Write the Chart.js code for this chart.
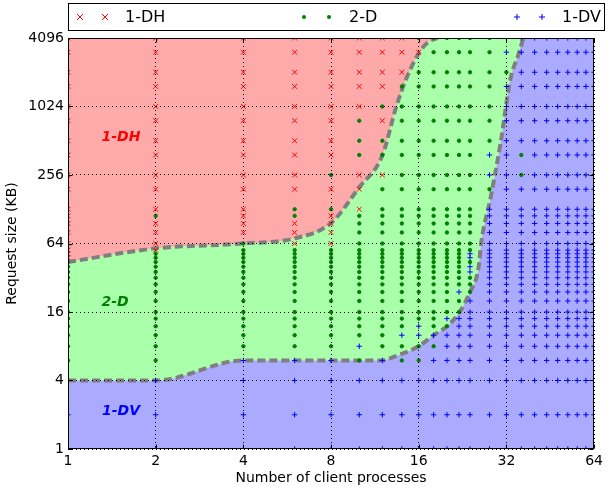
<!DOCTYPE html>
<html>
<head>
<meta charset="utf-8">
<title>Best layout by request size and number of clients</title>
<script src="https://cdn.jsdelivr.net/npm/chart.js@4/dist/chart.umd.min.js"></script>
<style>
  html, body { margin: 0; padding: 0; background: #fff; }
  #wrap { position: relative; width: 607px; height: 491px; }
</style>
</head>
<body>
<div id="wrap"><canvas id="chart"></canvas></div>
<script>
'use strict';
// Best data layout (1-DH / 2-D / 1-DV) per client-process count and request size.
// Both axes are base-2 logs: Chart.js log scales place the values, we only pick the tick set.

const procs   = [1, 2, 4, 6, 8, 10, 12, 14, 16, 18, 20, 22, 24, 28, 32, 36, 40, 44, 48, 52, 56, 60, 64];
const sizesKB = [4096, 3072, 2048, 1536, 1024, 768, 512, 384, 256, 192, 128, 112, 96, 80, 64,
                 56, 52, 48, 44, 40, 36, 32, 28, 24, 20, 16, 14, 12, 10, 8, 6, 4, 2, 1];
// one string per procs value, one letter per sizesKB row (spaces only group the rows by 5)
// r = 1-DH, g = 2-D, b = 1-DV
const winner = [
  'rrrrr rrrrr rrrrr rrrgg ggggg ggggg gbbb', // 1
  'rrrrr rrrrr rgrrr rgggg ggggg ggggg gbbb', // 2
  'rrrrr rrrrr rrrrg ggggg ggggg ggggg bbbb', // 4
  'rrrrr rrrrr ggrrr ggggg ggggg ggggg bbbb', // 6
  'rrrrr rrrgr grrrr ggggg ggggg ggggg bbbb', // 8
  'rrrrr gggrr rgggg ggggg ggggg ggggb gbbb', // 10
  'rrrrg rggrg ggggg ggggg ggggg ggggg bbbb', // 12
  'rrrgg ggggg ggggg ggggg ggggg gggbg gbbb', // 14
  'grggg ggggg ggggg ggggg ggggg ggbbg gbbb', // 16
  'ggggg ggggg ggggg ggggg ggggg gggbg bbbb', // 18
  'ggggg ggggg ggggg ggggg ggggg gbgbb bbbb', // 20
  'ggggg ggggg ggggg ggggg gggbg gbbbb bbbb', // 22
  'ggggg ggggg ggggg gbbgb bgggb bbbbb bbbb', // 24
  'ggggg ggbbg bbbbb bbbbb bbbbb bbbbb bbbb', // 28
  'bbgbb bbbbb bbbbb bbbbb bbbbb bbbbb bbbb', // 32
  'bbbbb bbggb bbbbb bbbbb bbbbb bbbbb bbbb', // 36
  'bbbbb bbbbb bbbbb bbbbb bbbbb bbbbb bbbb', // 40
  'bbbbb bbbbb bbbbb bbbbb bbbbb bbbbb bbbb', // 44
  'bbbbb bbbbb bbbbb bbbbb bbbbb bbbbb bbbb', // 48
  'bbbbb bbbbb bbbbb bbbbb bbbbb bbbbb bbbb', // 52
  'bbbbb bbbbb bbbbb bbbbb bbbbb bbbbb bbbb', // 56
  'bbbbb bbbbb bbbbb bbbbb bbbbb bbbbb bbbb', // 60
  'bbbbb bbbbb bbbbb bbbbb bbbbb bbbbb bbbb', // 64
];
const xTicks = [1, 2, 4, 8, 16, 32, 64];
const yTicks = [1, 4, 16, 64, 256, 1024, 4096];
// region boundaries as [procs, KB] (each ends where it meets the top edge)
const upperEdge = [[1, 44], [2, 58], [4, 64], [6, 71], [8, 97], [10, 200], [12, 380], [13.4, 1024],
                   [14.5, 1800], [16, 3000], [17.3, 3800], [18.6, 4096]];
const lowerEdge = [[1, 4], [2, 4], [4, 6], [8, 6], [12, 6], [13, 6.4], [16, 8], [18, 10], [20, 12],
                   [22, 15.7], [24, 24], [25.7, 40], [26.2, 64], [28.3, 166], [30.6, 500], [33, 1760],
                   [35.3, 3000], [36.6, 4096]];
const topRight = [64, 4096]; // the shaded areas continue along the top edge to here
// region names, anchored at [procs, KB]
const regionNames = [
  { code: 'r', x: 1.52, y: 563 },
  { code: 'g', x: 1.45, y: 20 },
  { code: 'b', x: 1.52, y: 2.2 },
];

const layouts = {
  r: { label: '1-DH', color: '#ff0000', area: '#ffaaaa', pointStyle: 'crossRot', radius: 3.4, legendRadius: 4.2 },
  g: { label: '2-D',  color: '#008000', area: '#aaffaa', pointStyle: 'circle',   radius: 1.7, legendRadius: 2 },
  b: { label: '1-DV', color: '#0000ff', area: '#aaaaff', pointStyle: 'cross',    radius: 2.7, legendRadius: 3 },
};
const FONT = '"DejaVu Sans", sans-serif';

function pointsFor(code) {
  const pts = [];
  procs.forEach((p, i) => {
    const col = winner[i].replace(/ /g, '');
    sizesKB.forEach((kb, j) => { if (col[j] === code) pts.push({ x: p, y: kb }); });
  });
  return pts;
}
const xy = (arr) => arr.map(([x, y]) => ({ x, y }));

// shaded region: edge + run along the top, filled to the top ('end') or bottom ('start')
function areaDataset(edge, fillTo, area) {
  return {
    type: 'line', data: xy(edge.concat([topRight])), order: 3, clip: 0,
    fill: fillTo, backgroundColor: area, borderWidth: 0, borderColor: 'rgba(0,0,0,0)',
    cubicInterpolationMode: 'monotone', pointRadius: 0,
  };
}
function edgeDataset(edge) {
  return {
    type: 'line', data: xy(edge), order: 2, clip: 0, fill: false,
    borderColor: '#7f7f7f', borderWidth: 4, borderDash: [8, 4],
    cubicInterpolationMode: 'monotone', pointRadius: 0,
  };
}

function layoutDataset(code) {
  const s = layouts[code];
  return {
    type: 'scatter', label: s.label, data: pointsFor(code), order: 0, clip: 0, showLine: false,
    pointStyle: s.pointStyle, pointRadius: s.radius, pointBorderWidth: 1,
    pointBorderColor: s.color, pointBackgroundColor: s.color,
  };
}

function drawMarker(ctx, style, r, cx, cy) {
  ctx.beginPath();
  if (style === 'circle') { ctx.arc(cx, cy, r, 0, Math.PI * 2); ctx.fill(); return; }
  if (style === 'cross') {
    ctx.moveTo(cx - r, cy); ctx.lineTo(cx + r, cy);
    ctx.moveTo(cx, cy - r); ctx.lineTo(cx, cy + r);
  } else {
    const d = r * Math.SQRT1_2;
    ctx.moveTo(cx - d, cy - d); ctx.lineTo(cx + d, cy + d);
    ctx.moveTo(cx - d, cy + d); ctx.lineTo(cx + d, cy - d);
  }
  ctx.stroke();
}

// green (2-D) is whatever lies between the two edges
const areaBackground = {
  id: 'areaBackground',
  beforeDraw(chart) {
    const { ctx, chartArea: a } = chart;
    ctx.save();
    ctx.fillStyle = layouts.g.area;
    ctx.fillRect(a.left, a.top, a.right - a.left, a.bottom - a.top);
    ctx.restore();
  },
};

// frame with inward ticks (matplotlib style), region names, and the expanded legend box on top
const decorations = {
  id: 'decorations',
  afterDraw(chart) {
    const { ctx, chartArea: a, scales: { x, y } } = chart;
    ctx.save();

    ctx.font = 'bold italic 14px ' + FONT;
    ctx.textAlign = 'center';
    ctx.textBaseline = 'middle';
    regionNames.forEach((n) => {
      ctx.fillStyle = layouts[n.code].color;
      ctx.fillText(layouts[n.code].label, x.getPixelForValue(n.x), y.getPixelForValue(n.y) + 1);
    });

    ctx.strokeStyle = '#000';
    ctx.lineWidth = 1;
    const L = Math.round(a.left) + 0.5, R = Math.round(a.right) - 0.5;
    const T = Math.round(a.top) + 0.5, B = Math.round(a.bottom) - 0.5;
    ctx.strokeRect(L, T, R - L, B - T);
    ctx.beginPath();
    xTicks.forEach((v) => {
      const px = Math.round(x.getPixelForValue(v)) + 0.5;
      ctx.moveTo(px, B); ctx.lineTo(px, B - 4);
      ctx.moveTo(px, T); ctx.lineTo(px, T + 4);
    });
    yTicks.forEach((v) => {
      const py = Math.round(y.getPixelForValue(v)) + 0.5;
      ctx.moveTo(L, py); ctx.lineTo(L + 4, py);
      ctx.moveTo(R, py); ctx.lineTo(R - 4, py);
    });
    ctx.stroke();

    // legend
    ctx.fillStyle = '#fff';
    ctx.fillRect(68.5, 3.5, 536, 27);
    ctx.strokeRect(68.5, 3.5, 536, 27);
    const cy = 17;
    const slots = [{ code: 'r', left: 68 }, { code: 'g', left: 292 }, { code: 'b', left: 505 }];
    ctx.font = '16px ' + FONT;
    ctx.textAlign = 'left';
    slots.forEach((s) => {
      const st = layouts[s.code];
      ctx.strokeStyle = st.color;
      ctx.fillStyle = st.color;
      drawMarker(ctx, st.pointStyle, st.legendRadius, s.left + 12, cy);
      drawMarker(ctx, st.pointStyle, st.legendRadius, s.left + 37, cy);
      ctx.fillStyle = '#000';
      ctx.fillText(st.label, s.left + 57, cy + 1);
    });
    ctx.restore();
  },
};

function logAxis(min, max, ticks, title) {
  return {
    type: 'logarithmic', min, max,
    afterBuildTicks: (s) => { s.ticks = ticks.map((v) => ({ value: v })); },
    ticks: { callback: (v) => String(v), autoSkip: false, maxRotation: 0, padding: 4, color: '#000', font: { size: 14, family: FONT } },
    // z > 0: dotted grid drawn over the coloured regions
    grid: { z: 1, color: '#000', lineWidth: 1, drawTicks: false, tickLength: 0 },
    border: { display: false, dash: [1, 3] },
    title: { display: true, text: title, color: '#000', font: { size: 14, family: FONT } },
  };
}

const xAxis = logAxis(1, 64, xTicks, 'Number of client processes');
xAxis.afterFit = (s) => { s.height = 42; };
xAxis.title.padding = { top: 0, bottom: 4.5 };
const yAxis = logAxis(1, 4096, yTicks, 'Request size (KB)');
yAxis.afterFit = (s) => { s.width = 68; };
yAxis.title.padding = { top: 3.5, bottom: 0 };

new Chart(document.getElementById('chart'), {
  type: 'scatter',
  data: {
    datasets: [
      areaDataset(upperEdge, 'end', layouts.r.area),
      areaDataset(lowerEdge, 'start', layouts.b.area),
      edgeDataset(upperEdge),
      edgeDataset(lowerEdge),
      layoutDataset('r'),
      layoutDataset('g'),
      layoutDataset('b'),
    ],
  },
  options: {
    responsive: true,
    maintainAspectRatio: false,
    animation: false,
    events: [],
    layout: { padding: { top: 38, right: 10, left: 0, bottom: 0 } },
    plugins: { legend: { display: false }, tooltip: { enabled: false } },
    scales: { x: xAxis, y: yAxis },
  },
  plugins: [areaBackground, decorations],
});
</script>
</body>
</html>
